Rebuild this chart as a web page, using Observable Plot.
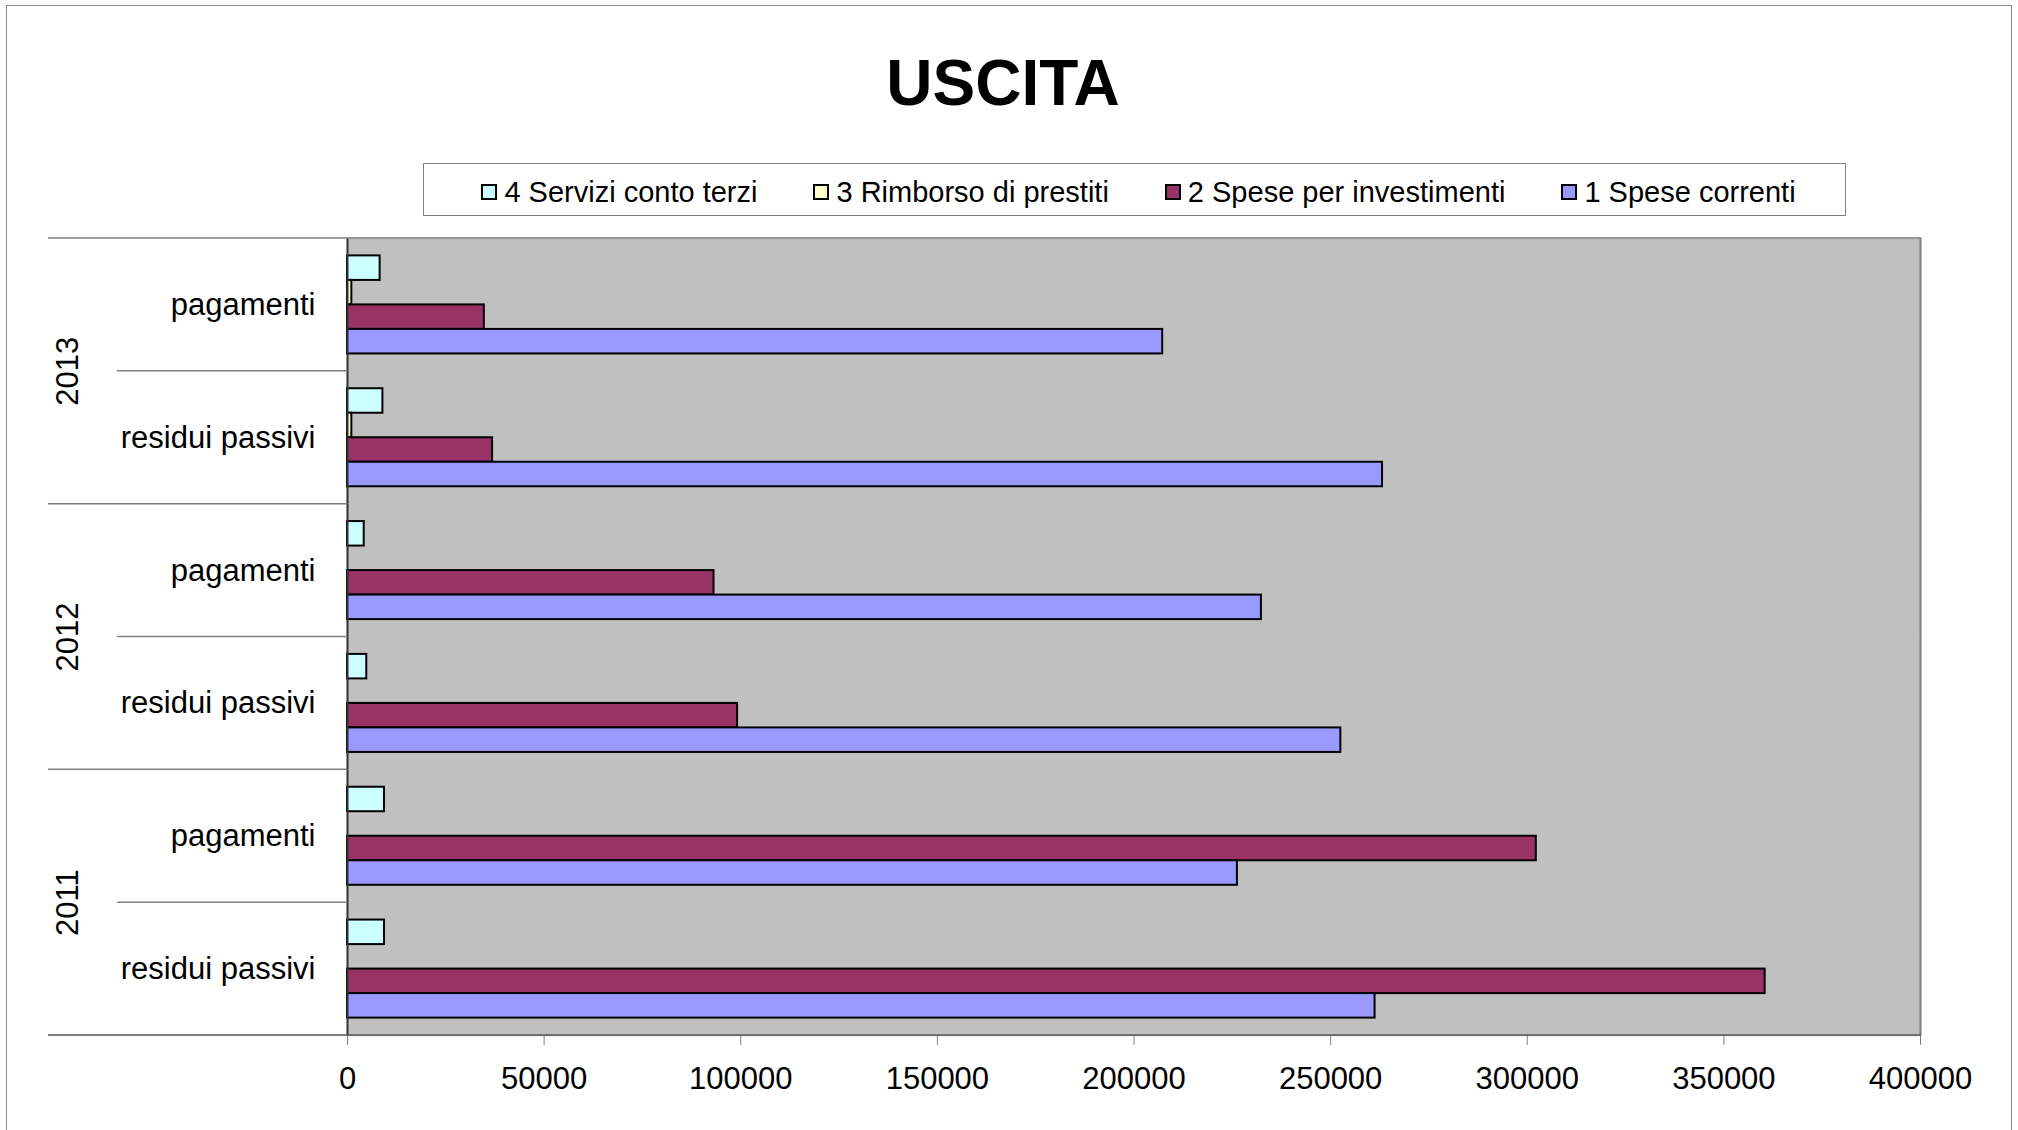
<!DOCTYPE html>
<html>
<head>
<meta charset="utf-8">
<script src="https://cdn.jsdelivr.net/npm/d3@7"></script>
<script src="https://cdn.jsdelivr.net/npm/@observablehq/plot@0.6"></script>
<style>
  html, body { margin: 0; padding: 0; background: #fff; overflow: hidden; }
  #chart { position: relative; width: 2018px; height: 1130px; font-family: "Liberation Sans", Arial, sans-serif; color: #000; }
  #outer { position: absolute; left: 6px; top: 5px; width: 2006px; height: 1140px; border: 1.5px solid #8a8a8a; box-sizing: border-box; }
  #title { position: absolute; left: 0; width: 2006px; top: 51px; text-align: center; font-weight: bold; font-size: 64px; line-height: 64px; }
  #legend { position: absolute; left: 423px; top: 163px; width: 1423px; height: 53px; border: 1.5px solid #808080; box-sizing: border-box;
            display: flex; align-items: center; justify-content: center; gap: 56px; font-size: 29px; padding-left: 8px; padding-top: 5px; }
  .item { display: flex; align-items: center; white-space: nowrap; }
  .sw { width: 16px; height: 16px; border: 2px solid #000; box-sizing: border-box; margin-right: 7px; }
  #plot { position: absolute; left: 0; top: 0; }
</style>
</head>
<body>
<div id="chart">
  <div id="outer"></div>
  <div id="title">USCITA</div>
  <div id="legend"></div>
  <div id="plot"></div>
</div>
<script>
// ---- data ----
const groupYears = ["2013", "2013", "2012", "2012", "2011", "2011"];
const groupTypes = ["pagamenti", "residui passivi", "pagamenti", "residui passivi", "pagamenti", "residui passivi"];
const seriesNames = ["4 Servizi conto terzi", "3 Rimborso di prestiti", "2 Spese per investimenti", "1 Spese correnti"];
const seriesColors = ["#ccffff", "#ffffcc", "#993366", "#9999ff"];
const servizi      = [8300, 9000, 4250, 4900, 9400, 9400];
const rimborso     = [1100, 1100, 0, 0, 0, 0];
const investimenti = [34800, 36900, 93200, 99200, 302300, 360500];
const correnti     = [207300, 263200, 232400, 252600, 226300, 261300];
const xTicks = [0, 50000, 100000, 150000, 200000, 250000, 300000, 350000, 400000];

const FONT = '"Liberation Sans", Arial, sans-serif';
const groupKeys = groupYears.map((y, i) => y + " " + groupTypes[i]);
const seriesValues = [servizi, rimborso, investimenti, correnti];
const rows = [];
groupKeys.forEach((g, i) => seriesNames.forEach((s, j) => rows.push({group: g, series: s, value: seriesValues[j][i]})));
const yearRows = groupKeys.map((g, i) => ({group: g, year: groupYears[i], type: groupTypes[i]}))
  .filter(d => d.type === "pagamenti");

// ---- legend ----
const legend = d3.select("#legend");
seriesNames.forEach((s, j) => {
  const it = legend.append("div").attr("class", "item");
  it.append("div").attr("class", "sw").style("background", seriesColors[j]);
  it.append("span").text(s);
});

// ---- plot ----
const plot = Plot.plot({
  width: 2018,
  height: 1130,
  marginTop: 238,
  marginRight: 98,
  marginBottom: 95,
  marginLeft: 347,
  facet: {marginTop: 0, marginRight: 0, marginBottom: 0, marginLeft: 0},
  style: {fontFamily: FONT, fontSize: "31px", background: "transparent", color: "#000", overflow: "visible"},
  x: {domain: [0, 400000]},
  y: {domain: seriesNames, paddingInner: 0, paddingOuter: 0.71, round: false, axis: null},
  fy: {domain: groupKeys, padding: 0, round: false},
  color: {domain: seriesNames, range: seriesColors},
  marks: [
    Plot.frame({fill: "#c0c0c0", stroke: "#c0c0c0", strokeWidth: 1.5}),
    Plot.barX(rows, {filter: d => d.value > 0, fy: "group", y: "series", x: "value", fill: "series", stroke: "#000", strokeWidth: 2}),
    Plot.ruleX([0], {stroke: "#333", strokeWidth: 2}),
    Plot.ruleX([400000], {stroke: "#808080", strokeWidth: 2}),
    Plot.axisX({ticks: xTicks, tickSize: 10, tickPadding: 21, tickFormat: d => String(d), label: null,
                stroke: "#808080", fill: "#000", fontSize: 31}),
    Plot.axisFy({anchor: "left", tickSize: 0, tickPadding: 32, label: null, fontSize: 31, fill: "#000",
                 tickFormat: k => groupTypes[groupKeys.indexOf(k)]}),
    Plot.text(yearRows, {fy: "group", text: "year", frameAnchor: "bottom-left", dx: -279, rotate: -90,
                         textAnchor: "middle", lineAnchor: "middle", fontSize: 31, fill: "#000"})
  ]
});

// separators between categories, via the fy scale
const fyS = plot.scale("fy");
const svg = d3.select(plot);
const sep = svg.append("g").attr("stroke", "#808080").attr("stroke-width", 1.5);
groupKeys.forEach((k, i) => {
  const y0 = fyS.apply(k);
  const x1 = groupTypes[i] === "pagamenti" ? 48 : 117;
  sep.append("line").attr("x1", x1).attr("x2", i === 0 ? 1921 : 347).attr("y1", y0).attr("y2", y0);
});
const yb = fyS.apply(groupKeys[groupKeys.length - 1]) + fyS.bandwidth;
sep.append("line").attr("x1", 48).attr("x2", 1921).attr("y1", yb).attr("y2", yb).attr("stroke", "#555");

document.getElementById("plot").appendChild(plot);
</script>
</body>
</html>
